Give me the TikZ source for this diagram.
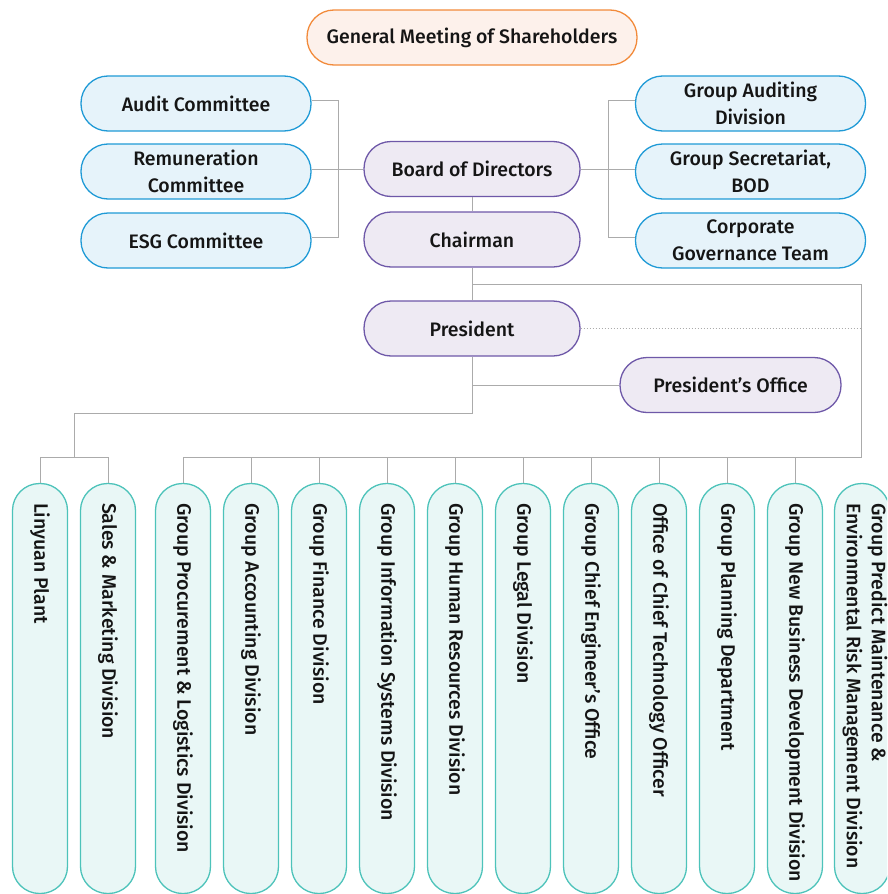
\documentclass[tikz,border=0pt]{standalone}
\usepackage{fontspec}
\setmainfont{Fira Sans}[UprightFont={* Medium}]
\definecolor{orB}{HTML}{F28A3A}
\definecolor{orF}{HTML}{FDF1EB}
\definecolor{blB}{HTML}{1F9AD6}
\definecolor{blF}{HTML}{E6F3FA}
\definecolor{puB}{HTML}{6E58A8}
\definecolor{puF}{HTML}{EEEAF3}
\definecolor{teB}{HTML}{4DC3BA}
\definecolor{teF}{HTML}{E9F7F6}
\definecolor{lnC}{HTML}{ABABAB}
\definecolor{txC}{HTML}{151515}
\begin{document}
\begin{tikzpicture}[x=1pt,y=-1pt,
  every node/.style={font=\fontsize{19.5}{27}\selectfont, text=txC, align=center},
  pill/.style={draw, line width=1.3pt, rounded corners=27pt, minimum height=55pt, inner sep=0pt},
  orangebox/.style={pill, draw=orB, fill=orF, minimum width=330pt},
  bluebox/.style={pill, draw=blB, fill=blF, minimum width=230pt},
  purplebox/.style={pill, draw=puB, fill=puF, minimum width=216pt},
  vbox/.style={draw=teB, line width=1.3pt, fill=teF, rounded corners=27pt, minimum width=55pt, minimum height=410pt, inner sep=0pt},
  vtext/.style={rotate=-90, anchor=west, inner sep=0pt, align=left},
  conn/.style={draw=lnC, line width=1pt}
]
\useasboundingbox (0,0) rectangle (887,894);
\clip (0,0) rectangle (887,894);

\node[orangebox] (gm) at (472,37.5) {General Meeting of Shareholders};

\node[bluebox] (audit) at (196,103.5) {Audit Committee};
\node[bluebox] (remu) at (196,171.5) {Remuneration\\Committee};
\node[bluebox] (esg) at (196,240.5) {ESG Committee};

\node[bluebox] (gad) at (750.5,103.5) {Group Auditing\\Division};
\node[bluebox] (gsec) at (750.5,171.5) {Group Secretariat,\\BOD};
\node[bluebox] (cgt) at (750.5,240.5) {Corporate\\Governance Team};

\node[purplebox] (board) at (472,169) {Board of Directors};
\node[purplebox] (chair) at (472,239.5) {Chairman};
\node[purplebox] (pres) at (472,328.5) {President};
\node[purplebox, minimum width=221pt] (poff) at (730.5,385) {President’s Office};

% bottom boxes
\foreach \i/\cx in {1/40,2/108,3/183,4/251,5/319,6/387,7/455,8/523,9/591,10/659,11/727,12/795,13/862}{
  \node[vbox] (b\i) at (\cx,688.5) {};
}
\node[vtext] (t1) at ([yshift=-20pt]b1.north) {Linyuan Plant};
\node[vtext] (t2) at ([yshift=-20pt]b2.north) {Sales \& Marketing Division};
\node[vtext] (t3) at ([yshift=-20pt]b3.north) {Group Procurement \& Logistics Division};
\node[vtext] (t4) at ([yshift=-20pt]b4.north) {Group Accounting Division};
\node[vtext] (t5) at ([yshift=-20pt]b5.north) {Group Finance Division};
\node[vtext] (t6) at ([yshift=-20pt]b6.north) {Group Information Systems Division};
\node[vtext] (t7) at ([yshift=-20pt]b7.north) {Group Human Resources Division};
\node[vtext] (t8) at ([yshift=-20pt]b8.north) {Group Legal Division};
\node[vtext] (t9) at ([yshift=-20pt]b9.north) {Group Chief Engineer’s Office};
\node[vtext] (t10) at ([yshift=-20pt]b10.north) {Office of Chief Technology Officer};
\node[vtext] (t11) at ([yshift=-20pt]b11.north) {Group Planning Department};
\node[vtext] (t12) at ([yshift=-20pt]b12.north) {Group New Business Development Division};
\node[vtext, font=\fontsize{19.5}{25}\selectfont] (t13) at ([xshift=3pt,yshift=-20pt]b13.north) {Group Predict Maintenance \&\\Environmental Risk Management Division};

% coordinates
\coordinate (lbx) at (338,0);
\coordinate (rbx) at (608,0);
\coordinate (j1) at (472,284);
\coordinate (rv) at (861,284);
\coordinate (busR) at (861,457);
\coordinate (busL) at (183,457);
\coordinate (j2) at (472,413);
\coordinate (j3) at (74,413);
\coordinate (j4) at (74,457);
\coordinate (bl1) at (40,457);
\coordinate (bl2) at (108,457);

% left bracket
\draw[conn] ([yshift=3pt]audit.east) -- ([yshift=3pt]audit.east -| lbx) -- ([yshift=3pt]esg.east -| lbx) -- ([yshift=3pt]esg.east);
\draw[conn] (board.west) -- (board.west -| remu.east);
% right bracket
\draw[conn] ([yshift=3pt]gad.west) -- ([yshift=3pt]gad.west -| rbx) -- ([yshift=3pt]cgt.west -| rbx) -- ([yshift=3pt]cgt.west);
\draw[conn] (board.east) -- (board.east -| gsec.west);

% vertical chain
\draw[conn] (board.south) -- (chair.north);
\draw[conn] (chair.south) -- (pres.north);
\draw[conn] (j1) -- (rv) -- (busR) -- (busL);
\draw[conn, dotted] (pres.east) -- (pres.east -| rv);
\draw[conn] (pres.south) -- (j2) -- (j3) -- (j4);
\draw[conn] (poff.west) -- (poff.west -| pres.south);
\draw[conn] (bl1) -- (bl2);
\draw[conn] (bl1) -- (b1.north);
\draw[conn] (bl2) -- (b2.north);
\foreach \i in {3,...,12}{
  \draw[conn] (b\i.north |- busR) -- (b\i.north);
}
\end{tikzpicture}
\end{document}
